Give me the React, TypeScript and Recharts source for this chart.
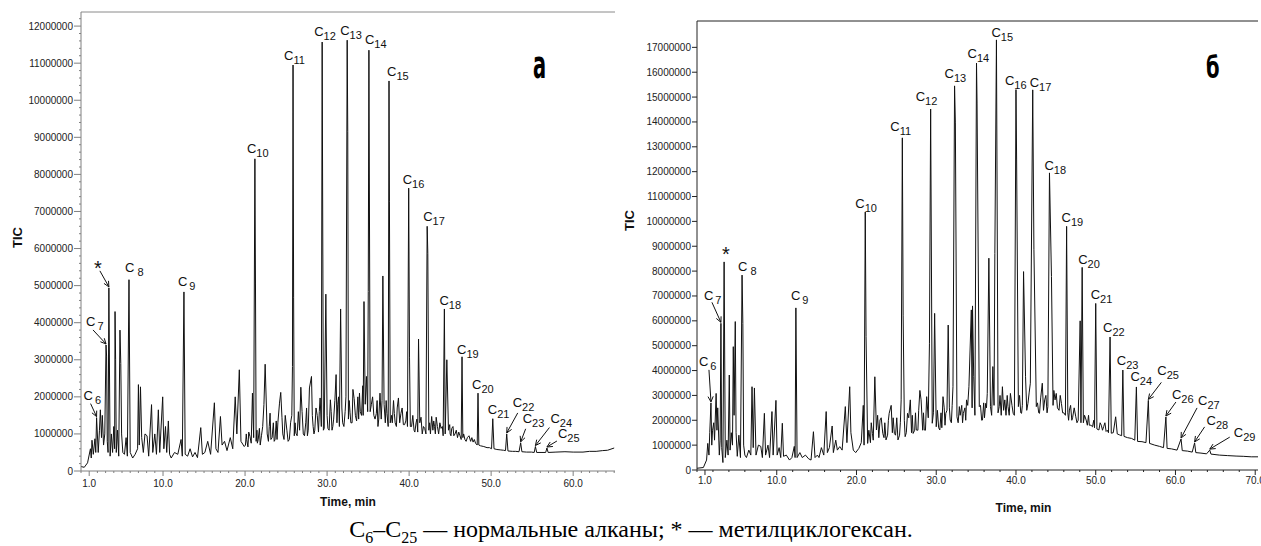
import React from "react";
import { ComposedChart, Line, Scatter, XAxis, YAxis, ReferenceLine } from "recharts";

type Pt = [number, number];

// Chromatogram (a): retention time, min / TIC, millions of counts
// trace between the labelled peaks
const traceA: Pt[] = [
  [0, 0.12], [0.4, 0.1], [0.8, 0.22], [1.15, 0.6], [1.25, 0.35], [1.34, 0.83], [1.5, 0.45], [1.7, 0.87], [1.8, 0.5],
  [2.1, 0.5], [2.25, 1.1], [2.36, 1.65], [2.5, 0.9], [2.6, 1.5], [2.75, 0.7], [2.9, 1.0],
  [3.12, 3.1], [3.2, 0.8], [3.3, 0.5],
  [3.55, 0.4], [3.7, 1.0], [3.85, 0.5], [4.0, 1.2], [4.1, 0.6], [4.15, 4.3], [4.22, 3.0], [4.3, 0.5], [4.45, 1.1],
  [4.6, 0.4], [4.75, 3.8], [4.85, 2.9], [4.95, 1.0], [5.1, 0.5], [5.3, 0.45], [5.5, 0.9], [5.65, 0.4],
  [6.0, 0.5], [6.3, 0.35], [6.6, 0.45], [6.9, 0.6], [7.0, 2.33], [7.1, 0.7], [7.25, 2.27], [7.4, 0.9], [7.6, 0.5],
  [7.8, 1.0], [8.05, 0.95], [8.25, 0.4], [8.6, 1.79], [8.75, 0.5], [9.0, 1.0], [9.2, 0.45], [9.43, 1.65], [9.6, 0.5],
  [9.96, 2.0], [10.1, 0.6], [10.3, 1.2], [10.45, 0.5], [10.65, 1.35], [10.8, 0.45], [11.0, 0.35], [11.4, 0.5],
  [11.8, 0.45], [12.2, 0.85], [12.35, 0.4],
  [12.7, 0.45], [13.0, 0.4], [13.3, 0.6], [13.6, 0.38], [13.9, 0.5], [14.2, 0.36], [14.6, 1.17], [14.8, 0.45],
  [15.1, 0.5], [15.45, 0.8], [15.8, 0.45], [16.26, 1.84], [16.45, 0.6], [16.7, 0.5], [17.0, 1.47], [17.2, 0.7],
  [17.5, 0.8], [17.8, 0.55], [18.2, 0.9], [18.5, 0.6], [18.8, 2.0], [19.0, 1.0], [19.3, 2.73], [19.5, 0.8],
  [19.9, 0.66], [20.2, 0.85], [20.6, 0.93], [20.9, 2.1], [21.05, 0.9],
  [21.27, 5.07], [21.35, 0.8], [21.6, 0.84], [22.0, 0.95], [22.3, 1.79], [22.45, 2.88], [22.7, 1.0], [23.05, 1.56],
  [23.3, 0.9], [23.65, 0.84], [24.0, 1.3], [24.2, 1.83], [24.35, 2.12], [24.6, 1.0], [25.1, 1.1], [25.4, 0.85],
  [25.7, 1.5], [25.78, 2.82],
  [25.92, 4.67], [26.0, 0.95], [26.2, 1.02], [26.5, 1.6], [26.8, 2.26], [27.1, 1.0], [27.4, 1.3], [27.6, 0.95],
  [27.85, 2.24], [28.1, 2.55], [28.3, 1.2], [28.5, 1.1], [28.8, 1.5], [29.15, 1.97], [29.3, 1.2],
  [29.55, 1.1], [29.65, 1.15], [29.85, 4.77], [30.1, 1.15], [30.4, 1.92], [30.6, 1.1], [30.8, 1.4], [31.1, 2.6],
  [31.3, 1.8], [31.5, 1.2], [31.65, 4.37], [31.9, 1.3], [32.2, 1.6],
  [32.52, 9.15], [32.6, 1.4], [32.8, 1.57], [33.05, 1.3], [33.3, 1.95], [33.6, 1.35], [33.95, 2.1], [34.2, 1.5],
  [34.5, 4.57], [34.65, 1.8], [34.8, 2.55], [34.95, 1.6], [35.02, 4.84],
  [35.25, 1.6], [35.4, 1.8], [35.7, 1.5], [36.0, 1.55], [36.2, 1.2], [36.45, 2.1], [36.6, 1.4], [36.8, 5.26],
  [36.95, 1.8], [37.1, 1.3], [37.3, 1.55], [37.45, 1.2],
  [37.6, 7.26], [37.7, 1.3], [37.85, 1.5], [38.2, 1.55], [38.45, 1.2], [38.7, 1.97], [39.0, 1.55], [39.3, 1.25],
  [39.6, 1.35], [39.8, 1.2],
  [40.05, 3.05], [40.3, 1.2], [40.7, 1.05], [40.95, 1.4], [41.15, 3.56], [41.3, 1.3], [41.6, 1.0], [41.9, 1.15],
  [42.05, 1.0],
  [42.28, 5.87], [42.4, 1.1], [42.75, 1.47], [42.9, 1.1], [43.1, 1.2], [43.3, 1.45], [43.6, 1.0], [43.9, 1.15],
  [44.15, 0.95],
  [44.4, 1.0], [44.6, 3.0], [44.8, 1.1], [45.0, 1.0], [45.2, 1.15], [45.6, 1.0], [45.9, 0.9], [46.2, 0.95],
  [46.35, 0.85],
  [46.55, 0.9], [46.8, 0.85], [47.1, 0.9], [47.5, 0.8], [47.8, 0.78], [48.1, 0.75], [48.3, 0.7],
  [48.5, 0.7], [48.7, 0.68], [49.1, 0.66], [49.5, 0.63], [49.8, 0.63], [50.05, 0.6],
  [50.35, 0.6], [50.7, 0.58], [51.1, 0.57], [51.5, 0.56], [51.75, 0.55],
  [52.05, 0.54], [52.6, 0.53], [53.0, 0.53], [53.4, 0.52],
  [53.75, 0.52], [54.3, 0.51], [54.9, 0.51], [55.25, 0.5],
  [55.55, 0.5], [56.2, 0.5], [56.65, 0.5],
  [56.95, 0.5], [57.9, 0.51], [59.0, 0.52], [60.0, 0.51], [61.2, 0.51], [62.0, 0.53], [62.8, 0.53], [63.6, 0.55],
  [64.2, 0.56], [65.0, 0.62],
];
// dense small peaks on the hump of (a)
const hashA: Pt[] = [
  [20.05, 0.7], [20.15, 1.0], [20.35, 0.65], [20.45, 1.05], [20.75, 0.75],
  [21.45, 1.1], [21.5, 0.75], [21.75, 1.15], [21.85, 0.7], [22.15, 1.2],
  [22.85, 0.8], [22.95, 1.2], [23.15, 0.85], [23.45, 1.3], [23.55, 0.8], [23.8, 1.35], [23.9, 0.85],
  [24.5, 1.45], [24.75, 0.85], [24.9, 1.5], [25.25, 0.8], [25.55, 1.3],
  [26.1, 1.3], [26.35, 0.95], [26.65, 1.1], [26.95, 1.6], [27.25, 0.95], [27.5, 1.7], [27.7, 1.1],
  [28.2, 1.5], [28.4, 1.0], [28.65, 1.7], [28.95, 1.05], [29.05, 1.6],
  [30.0, 1.5], [30.25, 1.1], [30.5, 1.6], [30.7, 1.2], [30.95, 1.9], [31.2, 1.3], [31.4, 2.0], [31.8, 1.7],
  [32.05, 1.2], [32.3, 2.0],
  [32.7, 1.9], [32.9, 1.3], [33.15, 2.2], [33.45, 1.5], [33.75, 2.0], [33.85, 1.4], [34.05, 1.6], [34.35, 2.3],
  [34.4, 1.5],
  [35.55, 2.0], [35.85, 1.4], [36.1, 1.9], [36.3, 1.4], [36.7, 1.9], [37.2, 1.9],
  [37.95, 1.3], [38.1, 1.9], [38.3, 1.3], [38.55, 1.7], [38.85, 1.3], [39.15, 1.7], [39.45, 1.25], [39.7, 1.6],
  [40.15, 1.2], [40.45, 1.5], [40.6, 1.1], [40.85, 1.3], [41.05, 1.05], [41.45, 1.45], [41.75, 1.2],
  [42.5, 1.3], [42.6, 1.0], [43.0, 1.35], [43.2, 1.0], [43.45, 1.2], [43.75, 1.3], [44.05, 1.2],
  [44.95, 1.25], [45.1, 0.95], [45.35, 1.2], [45.45, 0.95], [45.75, 1.1], [46.05, 1.05],
  [46.65, 1.0], [46.95, 0.8], [47.3, 0.95], [47.65, 0.9], [47.95, 0.85],
];
const peakNamesA = ["6", "7", "*", "8", "9", "10", "11", "12", "13", "14", "15", "16", "17", "18", "19", "20", "21", "22", "23", "24", "25"];
const peakTimesA = [1.9, 3.05, 3.4, 5.85, 12.55, 21.2, 25.85, 29.4, 32.45, 35.1, 37.55, 39.95, 42.2, 44.3, 46.45, 48.4, 50.2, 51.9, 53.6, 55.4, 56.8];
const peakTicA = [1.44, 3.4, 4.94, 5.16, 4.83, 8.42, 10.95, 11.57, 11.62, 11.35, 10.52, 7.63, 6.6, 4.37, 3.08, 2.1, 1.41, 1.0, 0.76, 0.66, 0.62];

// Chromatogram (б)
const traceB: Pt[] = [
  [0, 0.07], [0.8, 0.1], [1.2, 0.4], [1.35, 1.07], [1.5, 0.6], [1.6, 1.5],
  [1.85, 1.0], [1.95, 1.6], [2.1, 1.9], [2.2, 1.2], [2.4, 3.08], [2.5, 1.6], [2.6, 2.5], [2.8, 0.6], [2.9, 1.2],
  [3.1, 0.9], [3.25, 0.3],
  [3.55, 0.5], [3.75, 1.2], [3.9, 0.6], [4.05, 3.82], [4.15, 0.8], [4.3, 1.5], [4.45, 1.0], [4.55, 4.96], [4.65, 2.2],
  [4.8, 5.97], [4.9, 1.5], [5.05, 0.55], [5.25, 1.4], [5.45, 0.5],
  [5.75, 5.9], [5.85, 1.0], [6.0, 0.6], [6.2, 0.5], [6.5, 0.8], [6.75, 0.6], [6.9, 3.35], [7.05, 0.9], [7.2, 3.3],
  [7.4, 0.6], [7.7, 1.0], [8.0, 0.95], [8.2, 0.5], [8.45, 2.28], [8.6, 0.6], [8.9, 1.0], [9.1, 0.5], [9.4, 2.35],
  [9.55, 0.6], [9.9, 2.8], [10.05, 0.6], [10.3, 0.9], [10.5, 0.5], [10.7, 1.88], [10.85, 0.55], [11.2, 0.6],
  [11.6, 0.4], [11.9, 0.5], [12.2, 0.95], [12.3, 0.5],
  [12.55, 0.5], [12.9, 0.7], [13.2, 0.5], [13.6, 0.6], [14.0, 0.45], [14.3, 0.4], [14.6, 1.54], [14.8, 0.5],
  [15.1, 0.6], [15.3, 0.5], [15.6, 0.9], [15.9, 0.6], [16.2, 2.35], [16.35, 0.7], [16.6, 0.9], [16.95, 1.77],
  [17.1, 0.7], [17.4, 1.2], [17.6, 0.8], [17.9, 0.94], [18.2, 0.8], [18.6, 2.55], [18.8, 1.1], [19.15, 3.35],
  [19.3, 1.5], [19.6, 0.8], [19.9, 0.7], [20.3, 0.87], [20.6, 1.1], [20.85, 2.6], [20.95, 1.0],
  [21.2, 5.36], [21.4, 1.07], [22.0, 1.47], [22.3, 3.75], [22.5, 1.61], [22.95, 2.01], [23.3, 1.47], [23.7, 1.21],
  [24.1, 2.28], [24.35, 2.6], [24.75, 1.47], [25.2, 1.21], [25.6, 2.82],
  [25.85, 6.23], [26.1, 1.34], [26.4, 2.28], [26.75, 2.82], [27.1, 1.47], [27.5, 1.61], [27.95, 3.2], [28.1, 2.82],
  [28.5, 1.61], [28.8, 2.95], [29.15, 5.1],
  [29.5, 1.88], [29.8, 6.3], [30.0, 1.74], [30.45, 1.61], [30.85, 2.95], [31.2, 2.28], [31.5, 5.83], [31.75, 2.01],
  [32.1, 3.35],
  [32.4, 13.96], [32.6, 2.14], [32.9, 2.55], [33.4, 2.28], [33.8, 2.82], [34.1, 3.35], [34.4, 6.44], [34.5, 2.5],
  [34.55, 6.6], [34.7, 3.75],
  [35.12, 14.76], [35.4, 2.55], [35.8, 2.01], [36.2, 2.68], [36.4, 3.08], [36.6, 8.52], [36.8, 2.55], [37.1, 4.16],
  [37.35, 8.7],
  [37.9, 2.55], [38.3, 3.35], [38.6, 2.82], [39.0, 2.55], [39.3, 3.08], [39.65, 2.28],
  [40.08, 12.47], [40.3, 2.55], [40.7, 2.28], [40.95, 7.98], [41.2, 3.75], [41.5, 2.68], [41.8, 3.49],
  [42.25, 8.88], [42.55, 2.55], [42.95, 2.28], [43.3, 3.49], [43.6, 2.82], [44.0, 2.55],
  [44.45, 7.78], [44.9, 2.82], [45.05, 3.08], [45.4, 2.4], [45.7, 2.68], [46.0, 2.3], [46.2, 2.2],
  [46.5, 2.3], [46.7, 2.41], [47.1, 2.1], [47.5, 2.14], [47.8, 2.0], [48.05, 6.0], [48.15, 1.9],
  [48.45, 1.9], [48.8, 2.01], [49.2, 1.8], [49.6, 1.74], [49.85, 1.7],
  [50.15, 1.65], [50.4, 1.61], [50.7, 1.8], [51.0, 1.75], [51.3, 1.55], [51.6, 1.5],
  [51.95, 1.48], [52.2, 1.5], [52.5, 2.14], [52.7, 1.45], [53.0, 1.41], [53.25, 1.38],
  [53.55, 1.35], [54.0, 1.3], [54.5, 1.27], [54.9, 1.2],
  [55.25, 1.15], [55.8, 1.14], [56.3, 1.1],
  [56.75, 1.07], [57.4, 1.0], [58.0, 0.95], [58.5, 0.9],
  [58.95, 0.87], [59.5, 0.85], [60.2, 0.8],
  [60.85, 0.78], [61.5, 0.76], [62.1, 0.72],
  [62.55, 0.7], [63.2, 0.68], [63.9, 0.65],
  [64.45, 0.64], [65.5, 0.6], [66.5, 0.58], [67.6, 0.56], [68.5, 0.55], [69.5, 0.53], [70.35, 0.53],
];
// dense small peaks on the hump of (б)
const hashB: Pt[] = [
  [21.55, 1.6], [21.75, 1.1], [21.85, 1.9], [22.1, 1.2], [22.65, 2.2], [22.8, 1.3], [23.1, 2.1], [23.45, 1.3],
  [23.55, 1.9], [23.9, 1.4], [24.0, 2.0],
  [24.5, 1.5], [24.6, 2.1], [24.9, 1.4], [25.05, 2.1], [25.4, 1.4], [25.5, 1.9],
  [26.0, 2.0], [26.25, 1.5], [26.55, 2.1], [26.9, 1.5], [27.0, 2.2], [27.3, 1.6], [27.4, 2.3], [27.7, 1.6],
  [27.8, 2.4], [28.3, 1.6], [28.4, 2.3], [28.65, 1.6], [29.0, 2.1],
  [29.65, 2.3], [30.15, 2.4], [30.3, 1.7], [30.6, 2.3], [30.7, 1.7], [31.0, 2.5], [31.1, 1.8], [31.35, 2.4],
  [31.65, 2.5], [31.9, 1.9], [32.0, 2.6],
  [32.75, 1.9], [33.0, 2.2], [33.2, 2.6], [33.3, 1.9], [33.6, 2.5], [33.7, 2.0], [33.95, 2.6],
  [34.85, 2.2], [35.55, 2.6], [35.7, 2.0], [35.95, 2.7], [36.05, 2.1], [36.3, 2.5],
  [36.95, 2.2], [37.25, 2.6], [37.75, 2.3], [38.0, 3.0], [38.15, 2.2], [38.45, 2.4], [38.75, 2.2], [38.9, 3.0],
  [39.15, 2.2], [39.5, 2.6], [39.8, 2.2],
  [40.45, 3.0], [40.6, 2.3], [40.8, 2.6], [41.35, 2.4], [41.65, 3.1],
  [42.7, 2.7], [42.85, 2.3], [43.1, 2.9], [43.45, 2.4], [43.75, 3.0], [43.9, 2.3],
  [44.65, 2.6], [44.75, 3.2], [45.2, 2.5], [45.55, 3.0], [45.85, 2.3],
  [46.6, 2.0], [46.85, 2.6], [47.0, 2.0], [47.3, 2.5], [47.65, 1.9],
  [48.6, 2.2], [48.95, 1.8], [49.1, 2.2], [49.4, 1.8], [49.75, 2.0],
  [50.55, 1.9], [50.85, 1.6], [51.15, 1.9], [51.45, 1.6],
];
const peakNamesB = ["6", "7", "*", "8", "9", "10", "11", "12", "13", "14", "15", "16", "17", "18", "19", "20", "21", "22", "23", "24", "25", "26", "27", "28", "29"];
const peakTimesB = [1.75, 3.0, 3.4, 5.65, 12.4, 21.1, 25.75, 29.3, 32.3, 35.05, 37.55, 40.0, 42.1, 44.2, 46.35, 48.3, 50.0, 51.8, 53.4, 55.1, 56.6, 58.8, 60.7, 62.4, 64.3];
const peakTicB = [2.7, 5.9, 8.37, 7.84, 6.52, 10.38, 13.36, 14.52, 15.45, 16.37, 17.3, 15.3, 15.29, 11.95, 9.8, 8.15, 6.7, 5.35, 4.02, 3.34, 2.8, 2.13, 1.25, 1.09, 0.8];

const xTicksA = [1, 10, 20, 30, 40, 50, 60];
const xTicksB = [1, 10, 20, 30, 40, 50, 60, 70];
const yTicksA = [0, 1, 2, 3, 4, 5, 6, 7, 8, 9, 10, 11, 12];
const yTicksB = [0, 1, 2, 3, 4, 5, 6, 7, 8, 9, 10, 11, 12, 13, 14, 15, 16, 17];

// label placement relative to the peak top (px)
type LabelPos = { dx: number; dy: number; gap?: number; arrow?: [number, number] };
const labelPosA: Record<string, LabelPos> = {
  "6": { dx: -13, dy: -18, gap: 2, arrow: [-6, -14] },
  "7": { dx: -20, dy: -19, gap: 2, arrow: [-13, -15] },
  "*": { dx: -15, dy: -13, arrow: [-9, -17] },
  "8": { dx: -4, dy: -8, gap: 3 },
  "9": { dx: -6, dy: -6, gap: 2 },
  "10": { dx: -8, dy: -6 },
  "11": { dx: -9, dy: -5 },
  "12": { dx: -8, dy: -6 },
  "13": { dx: -7, dy: -5 },
  "14": { dx: -4, dy: -6 },
  "15": { dx: -2, dy: -5 },
  "16": { dx: -6, dy: -4 },
  "17": { dx: -4, dy: -5 },
  "18": { dx: -5, dy: -4 },
  "19": { dx: -5, dy: -3 },
  "20": { dx: -6, dy: -4 },
  "21": { dx: -5, dy: -5 },
  "22": { dx: 6, dy: -27, arrow: [11, -21] },
  "23": { dx: 2, dy: -20, arrow: [5, -14] },
  "24": { dx: 15, dy: -24, arrow: [14, -19] },
  "25": { dx: 11, dy: -10, arrow: [10, -7] },
};
const labelPosB: Record<string, LabelPos> = {
  "6": { dx: -12, dy: -37, gap: 2, arrow: [-2, -33] },
  "7": { dx: -17, dy: -23, gap: 2, arrow: [-9, -21] },
  "*": { dx: -2, dy: -1 },
  "8": { dx: -4, dy: -4, gap: 3 },
  "9": { dx: -5, dy: -8, gap: 2 },
  "10": { dx: -10, dy: -4 },
  "11": { dx: -12, dy: -7 },
  "12": { dx: -15, dy: -8 },
  "13": { dx: -10, dy: -8 },
  "14": { dx: -9, dy: -5 },
  "15": { dx: -5, dy: -3 },
  "16": { dx: -11, dy: -5 },
  "17": { dx: -3, dy: -3 },
  "18": { dx: -5, dy: -3 },
  "19": { dx: -5, dy: -4 },
  "20": { dx: -4, dy: -3 },
  "21": { dx: -5, dy: -4 },
  "22": { dx: -7, dy: -5 },
  "23": { dx: -6, dy: -5 },
  "24": { dx: -6, dy: -6 },
  "25": { dx: 9, dy: -25, arrow: [13, -18] },
  "26": { dx: 6, dy: -18, arrow: [10, -15] },
  "27": { dx: 17, dy: -34, arrow: [16, -31] },
  "28": { dx: 12, dy: -18, arrow: [10, -16] },
  "29": { dx: 24, dy: -13, arrow: [20, -13] },
};

const SANS = "'Liberation Sans', Arial, sans-serif";

function buildRows(trace: Pt[], names: string[], times: number[], tic: number[]) {
  const peaks = names.map((name, i) => ({ t: times[i], v: tic[i], name }));
  const rows = [...trace.map(([t, v]) => ({ t, v, name: "" })), ...peaks].sort((a, b) => a.t - b.t);
  return { rows, peaks };
}

function Arrow({ x1, y1, x2, y2 }: { x1: number; y1: number; x2: number; y2: number }) {
  const a = Math.atan2(y2 - y1, x2 - x1);
  const h = 6;
  const p1 = [x2 - h * Math.cos(a - 0.45), y2 - h * Math.sin(a - 0.45)];
  const p2 = [x2 - h * Math.cos(a + 0.45), y2 - h * Math.sin(a + 0.45)];
  return (
    <g stroke="#111" strokeWidth={1} fill="none">
      <line x1={x1} y1={y1} x2={x2} y2={y2} />
      <polyline points={`${p1[0]},${p1[1]} ${x2},${y2} ${p2[0]},${p2[1]}`} />
    </g>
  );
}

function PeakLabel(props: any) {
  const { cx, cy, payload, positions } = props;
  const pos: LabelPos = positions[payload.name] ?? { dx: -6, dy: -5 };
  const tx = cx + pos.dx;
  const ty = cy + pos.dy;
  return (
    <g>
      {pos.arrow && <Arrow x1={cx + pos.arrow[0]} y1={cy + pos.arrow[1]} x2={cx} y2={cy - 1} />}
      {payload.name === "*" ? (
        <text x={tx} y={ty} fontSize={20} fontFamily={SANS} fill="#111">*</text>
      ) : (
        <text x={tx} y={ty} fontSize={13} fontFamily={SANS} fill="#111">
          C
          <tspan dx={pos.gap ?? 0} dy={4} fontSize={11}>{payload.name}</tspan>
        </text>
      )}
    </g>
  );
}

const makeXTick = (majors: number[], color: string, labelDy: number) => (props: any) => {
  const { x, y, payload } = props;
  const major = majors.includes(payload.value);
  return (
    <g>
      <line x1={x} y1={y} x2={x} y2={y + (major ? 5 : 2)} stroke={color} />
      {major && (
        <text x={x} y={y + labelDy} textAnchor="middle" fontSize={10} fontFamily={SANS} fill="#222">
          {payload.value.toFixed(1)}
        </text>
      )}
    </g>
  );
};

const makeYTick = (color: string, majorLen: number) => (props: any) => {
  const { x, y, payload } = props;
  const major = Number.isInteger(payload.value);
  return (
    <g>
      <line x1={x - (major ? majorLen : 2)} y1={y} x2={x} y2={y} stroke={color} />
      {major && (
        <text x={x - majorLen - 1} y={y + 3.5} textAnchor="end" fontSize={10} fontFamily={SANS} fill="#222">
          {String(Math.round(payload.value * 1000000))}
        </text>
      )}
    </g>
  );
};

function TicTitle(props: any) {
  const { viewBox, dx = 0, dy = 0 } = props;
  const x = viewBox.x + 17 + dx;
  const y = viewBox.y + viewBox.height / 2 + dy;
  return (
    <text x={x} y={y} transform={`rotate(-90 ${x} ${y})`} textAnchor="middle" dominantBaseline="central"
      fontSize={13} fontWeight="bold" fontFamily={SANS} fill="#111">
      TIC
    </text>
  );
}

function TimeTitle(props: any) {
  const { viewBox, dx = 0, dy = 0 } = props;
  return (
    <text x={viewBox.x + viewBox.width / 2 + dx} y={viewBox.y + dy} textAnchor="middle"
      fontSize={12} fontWeight="bold" fontFamily={SANS} fill="#111">
      Time, min
    </text>
  );
}

function range(from: number, to: number, step: number) {
  const out: number[] = [];
  for (let k = Math.round(from / step); k * step <= to + 1e-9; k++) out.push(k / (1 / step));
  return out;
}

const chartA = buildRows([...traceA, ...hashA], peakNamesA, peakTimesA, peakTicA);
const chartB = buildRows([...traceB, ...hashB], peakNamesB, peakTimesB, peakTicB);

const xTickListA = [...new Set([...xTicksA, ...range(0, 65, 1)])].sort((a, b) => a - b);
const xTickListB = [...new Set([...xTicksB, ...range(0, 70, 2)])].sort((a, b) => a - b);
const yTickListA = [...new Set([...yTicksA, ...range(0, 12.2, 0.2)])].sort((a, b) => a - b);

export default function App() {
  return (
    <div style={{ position: "absolute", left: 0, top: 0, width: 1261, height: 546, background: "#fff" }}>
      <div style={{ position: "absolute", left: 0, top: 0 }}>
        <ComposedChart width={620} height={515} data={chartA.rows} margin={{ top: 12, right: 5, bottom: 14, left: 0 }}>
          <XAxis dataKey="t" type="number" domain={[0, 65.1]} allowDataOverflow ticks={xTickListA} interval={0}
            tickSize={0} tickMargin={0} stroke="#808080" tick={makeXTick(xTicksA, "#808080", 16)} height={30}
            label={<TimeTitle dy={35} />} />
          <YAxis type="number" domain={[0, 12.38]} allowDataOverflow ticks={yTickListA} interval={0} width={81}
            tickSize={0} tickMargin={0} stroke="#808080" tick={makeYTick("#808080", 7)} label={<TicTitle dy={-4} />} />
          <ReferenceLine y={12.38} stroke="#8a8a8a" />
          <Line dataKey="v" type="linear" dot={false} stroke="#111" strokeWidth={1} isAnimationActive={false} />
          <Scatter data={chartA.peaks} dataKey="v" isAnimationActive={false}
            shape={(p: any) => <PeakLabel {...p} positions={labelPosA} />} />
        </ComposedChart>
      </div>
      <div style={{ position: "absolute", left: 620, top: 0 }}>
        <ComposedChart width={641} height={515} data={chartB.rows} margin={{ top: 21, right: 3, bottom: 15, left: 0 }}>
          <XAxis dataKey="t" type="number" domain={[0, 70.35]} allowDataOverflow ticks={xTickListB} interval={0}
            tickSize={0} tickMargin={0} stroke="#222" tick={makeXTick(xTicksB, "#222", 14)} height={30}
            label={<TimeTitle dx={46} dy={42} />} />
          <YAxis type="number" domain={[0, 18.06]} allowDataOverflow ticks={yTicksB} interval={0} width={77}
            tickSize={0} tickMargin={0} stroke="#222" tick={makeYTick("#222", 5)} label={<TicTitle dx={-8} dy={-25} />} />
          <ReferenceLine y={18.06} stroke="#222" />
          <Line dataKey="v" type="linear" dot={false} stroke="#111" strokeWidth={1} isAnimationActive={false} />
          <Scatter data={chartB.peaks} dataKey="v" isAnimationActive={false}
            shape={(p: any) => <PeakLabel {...p} positions={labelPosB} />} />
        </ComposedChart>
      </div>
      <svg width={1261} height={546} style={{ position: "absolute", left: 0, top: 0, pointerEvents: "none" }}>
        <text transform="translate(533,78) scale(0.72,1.3)" fontSize={30} fontWeight="bold"
          fontFamily="'DejaVu Sans Condensed', 'DejaVu Sans', sans-serif" fill="#000">a</text>
        <text transform="translate(1206,78) scale(0.72,1.0)" fontSize={30} fontWeight="bold"
          fontFamily="'DejaVu Sans Condensed', 'DejaVu Sans', sans-serif" fill="#000">б</text>
        <text x={631} y={537} textAnchor="middle" fontSize={24} fontFamily="'Liberation Serif', 'Times New Roman', serif" fill="#000">
          C<tspan fontSize={16} dy={6}>6</tspan><tspan dy={-6}>–C</tspan><tspan fontSize={16} dy={6}>25</tspan>
          <tspan dy={-6}> — нормальные алканы; * — метилциклогексан.</tspan>
        </text>
      </svg>
    </div>
  );
}
